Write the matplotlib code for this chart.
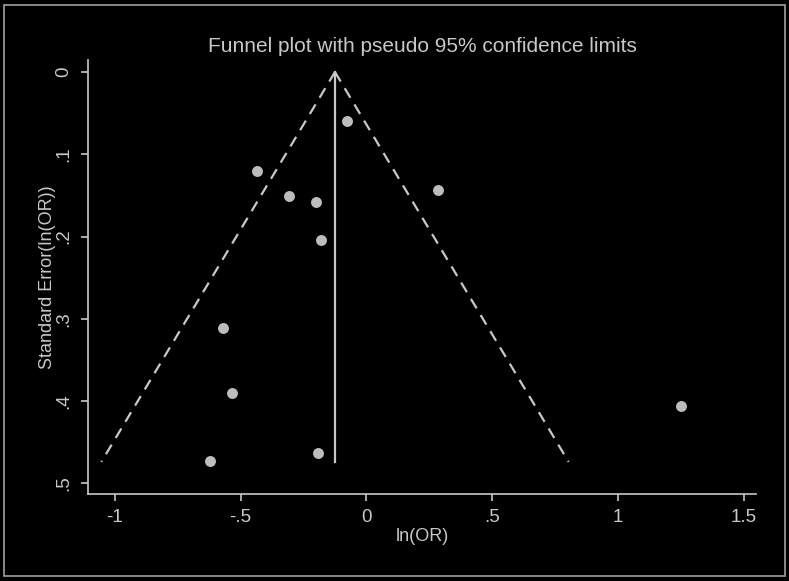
import matplotlib.pyplot as plt
import numpy as np
from matplotlib.patches import Rectangle

# study estimates
log_or = [-0.078, -0.435, -0.308, -0.201, -0.181, 0.284, -0.571, -0.535, -0.622, -0.193, 1.25]
se_log_or = [0.0596, 0.120, 0.151, 0.158, 0.204, 0.1436, 0.311, 0.390, 0.473, 0.4635, 0.406]
pooled = -0.125
se_max = 0.474

xticks = [-1, -0.5, 0, 0.5, 1, 1.5]
xticklabels = ["-1", "-.5", "0", ".5", "1", "1.5"]
yticks = [0, 0.1, 0.2, 0.3, 0.4, 0.5]
yticklabels = ["0", ".1", ".2", ".3", ".4", ".5"]

fg = "#c8c8c8"
dot = "#bdbdbd"
plt.rcParams['font.family'] = ['Liberation Sans', 'DejaVu Sans']

fig = plt.figure(figsize=(7.89, 5.81), dpi=100, facecolor="black")
ax = fig.add_axes([88/789, 1 - 494/581, (756 - 88)/789, (494 - 60)/581])
ax.set_facecolor("black")

# pseudo 95% limits
se_line = np.array([0, se_max])
ax.plot(pooled - 1.96*se_line, se_line, color=fg, lw=1.6, ls=(0, (5, 3.5)))
ax.plot(pooled + 1.96*se_line, se_line, color=fg, lw=1.6, ls=(0, (5, 3.5)))
ax.plot([pooled, pooled], [0, se_max], color=fg, lw=1.6)

ax.scatter(log_or, se_log_or, s=62, color=dot, zorder=3, linewidths=0)

ax.set_xlim(-1.107, 1.549)
ax.set_ylim(0.513, -0.0146)
ax.set_xticks(xticks)
ax.set_xticklabels(xticklabels)
ax.set_yticks(yticks)
ax.set_yticklabels(yticklabels, rotation=90, va="center")

for s in ["top", "right"]:
    ax.spines[s].set_visible(False)
for s in ["left", "bottom"]:
    ax.spines[s].set_color(fg)
    ax.spines[s].set_linewidth(1.2)
ax.tick_params(colors=fg, labelsize=13.5, length=5, width=1.2, pad=6)

ax.set_xlabel("ln(OR)", color=fg, fontsize=13, labelpad=1)
ax.set_ylabel("Standard Error(ln(OR))", color=fg, fontsize=13, labelpad=0)
ax.set_title("Funnel plot with pseudo 95% confidence limits", color=fg, fontsize=15, pad=6)

fig.patches.append(Rectangle((4/789, 5/581), 781/789, 571/581, transform=fig.transFigure,
                             fill=False, edgecolor="#a0a0a0", lw=1.2))

fig.savefig("out.png", dpi=100, facecolor="black")
